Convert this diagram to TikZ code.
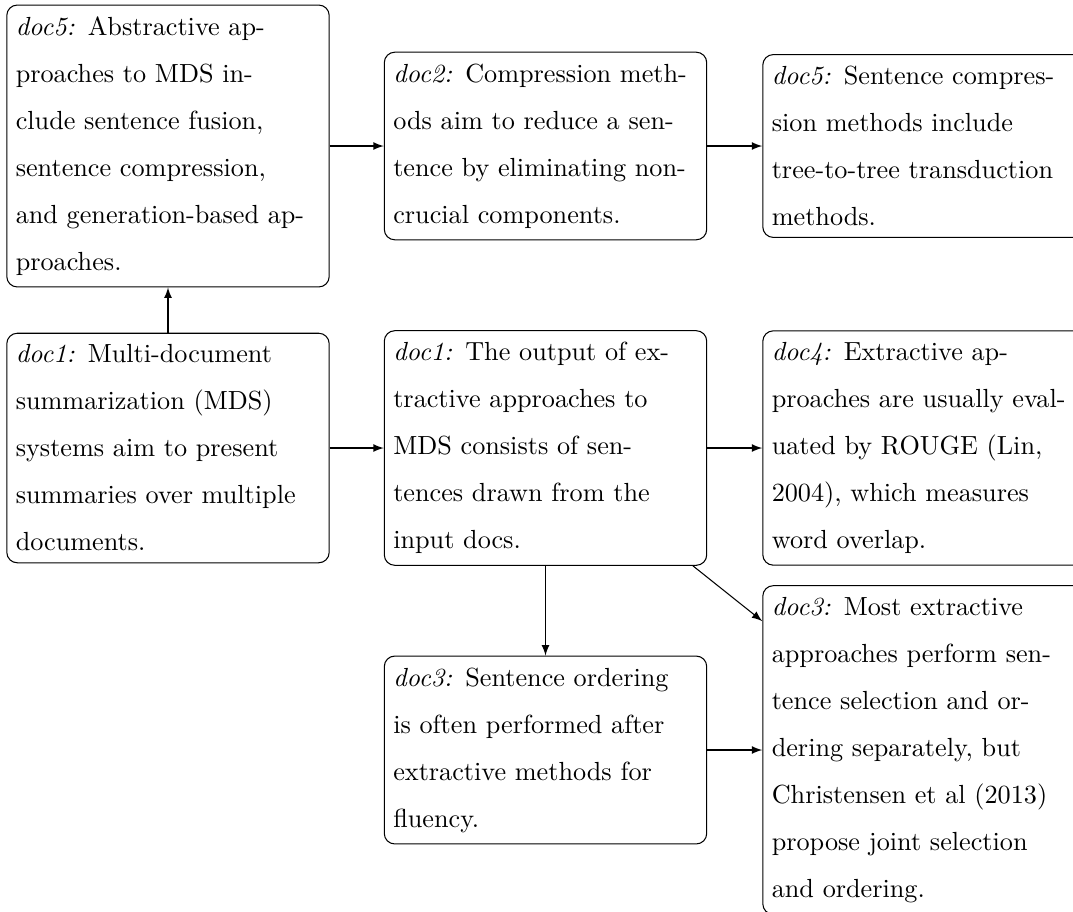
\documentclass[tikz,border=0pt]{standalone}
\usetikzlibrary{arrows}
\begin{document}
\begin{tikzpicture}[x=0.3817pt, y=-0.3817pt,
  card/.style={draw, rounded corners=4pt, align=left, text width=116.2pt,
    inner xsep=3.43pt, inner ysep=4.4pt, font=\fontsize{10}{17.94}\selectfont},
  link/.style={-latex, line width=0.4pt}]
\useasboundingbox (0,0) rectangle (1073,911);
\clip (0,0) rectangle (1073,911);

% top row
\node[card] (A) at (168,146) {\textit{doc5:}\enspace Abstractive ap-\\
  proaches to MDS in-\\ clude sentence fusion,\\ sentence compression,\\
  and generation-based ap-\\ proaches.};
\node[card] (B) at (545.5,146) {\textit{doc2:}\enspace Compression meth-\\
  ods aim to reduce a sen-\\ tence by eliminating non-\\ crucial components.};
\node[card] (C) at (924,146) {\textit{doc5:}\enspace Sentence compres-\\
  sion methods include\\ tree-to-tree transduction\\ methods.};

% middle row
\node[card] (D) at (168,448) {\textit{doc1:}\enspace Multi-document\\
  summarization (MDS)\\ systems aim to present\\ summaries over multiple\\ documents.};
\node[card] (E) at (545.5,448) {\textit{doc1:}\enspace The output of ex-\\
  tractive approaches to\\ MDS consists of sen-\\ tences drawn from the\\ input docs.};
\node[card] (F) at (924,448) {\textit{doc4:}\enspace Extractive ap-\\
  proaches are usually eval-\\ uated by ROUGE (Lin,\\ 2004), which measures\\ word overlap.};

% bottom row
\node[card] (G) at (545.5,750) {\textit{doc3:}\enspace Sentence ordering\\
  is often performed after\\ extractive methods for\\ fluency.};
\node[card] (H) at (924,750) {\textit{doc3:}\enspace Most extractive\\
  approaches perform sen-\\ tence selection and or-\\ dering separately, but\\
  Christensen et al (2013)\\ propose joint selection\\ and ordering.};

% connectors
\draw[link] (D) -- (A);
\draw[link] (A) -- (B);
\draw[link] (B) -- (C);
\draw[link] (D) -- (E);
\draw[link] (E) -- (F);
\draw[link] (E) -- (G);
\draw[link] (E) -- (H);
\draw[link] (G) -- (H);
\end{tikzpicture}
\end{document}
